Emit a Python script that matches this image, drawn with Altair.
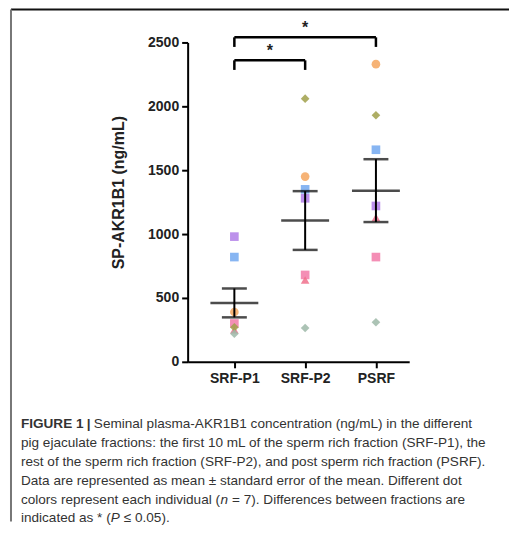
import altair as alt
import pandas as pd

# ---------------- data ----------------
categories = ["SRF-P1", "SRF-P2", "PSRF"]
individuals = ["A", "B", "C", "D", "E", "F", "G"]
ind_colors = ["#b07ee8", "#72a8f0", "#f4a65e", "#f27aa8", "#f0708c", "#a0a04a", "#9db8a8"]
ind_shapes = ["square", "square", "circle", "square", "triangle-up", "diamond", "diamond"]
srf_p1 = [980, 820, 390, 300, 250, 270, 220]
srf_p2 = [1280, 1350, 1450, 680, 640, 2060, 265]
psrf = [1220, 1660, 2330, 820, 1130, 1930, 310]
means = [461, 1106, 1340]
sems = [113, 230, 246]
y_ticks = [0, 500, 1000, 1500, 2000, 2500]
# significance brackets
sig_from = [0, 0]
sig_to = [2, 1]
sig_level = [2540, 2360]
sig_label = ["*", "*"]

caption_lines = [
    "pig ejaculate fractions: the first 10 mL of the sperm rich fraction (SRF-P1), the",
    "rest of the sperm rich fraction (SRF-P2), and post sperm rich fraction (PSRF).",
    "Data are represented as mean \u00b1 standard error of the mean. Different dot",
]

# ---------------- tables ----------------
rows = []
for ci, vals in enumerate([srf_p1, srf_p2, psrf]):
    for ii, v in enumerate(vals):
        rows.append({"idx": ci, "cat": categories[ci], "ind": individuals[ii], "value": v})
pts = pd.DataFrame(rows)

stats = pd.DataFrame({
    "idx": [0, 1, 2],
    "mean": means,
    "lo": [m - s for m, s in zip(means, sems)],
    "hi": [m + s for m, s in zip(means, sems)],
})
sig = pd.DataFrame({"x1": sig_from, "x2": sig_to, "lev": sig_level, "lab": sig_label})
sig["mid"] = (sig["x1"] + sig["x2"]) / 2
sig["foot"] = sig["lev"] - 75

FONT = "Liberation Sans"
label_expr = "[" + ",".join("'%s'" % c for c in categories) + "][datum.value]"

xscale = alt.Scale(domain=[-0.66, 2.47])
yscale = alt.Scale(domain=[0, 2500])
xaxis = alt.Axis(values=[0, 1, 2], labelExpr=label_expr, title=None, grid=False,
                 domainColor="black", domainWidth=2, tickColor="black", tickWidth=2,
                 tickSize=6, labelFont=FONT, labelFontWeight="bold", labelFontSize=14,
                 labelColor="#222", labelPadding=4)
yaxis = alt.Axis(values=y_ticks, format="d", title="SP-AKR1B1 (ng/mL)", grid=False,
                 domainColor="black", domainWidth=2, tickColor="black", tickWidth=2,
                 tickSize=6, labelFont=FONT, labelFontWeight="bold", labelFontSize=14,
                 labelColor="#222", labelPadding=3, titleFont=FONT, titleFontWeight="bold",
                 titleFontSize=16, titleColor="#222", titlePadding=21, titleY=150)

points = alt.Chart(pts).mark_point(filled=True, size=75, opacity=0.85).encode(
    x=alt.X("idx:Q", scale=xscale, axis=xaxis),
    y=alt.Y("value:Q", scale=yscale, axis=yaxis),
    color=alt.Color("ind:N", scale=alt.Scale(domain=individuals, range=ind_colors), legend=None),
    shape=alt.Shape("ind:N", scale=alt.Scale(domain=individuals, range=ind_shapes), legend=None),
)

base_s = alt.Chart(stats)
vline = base_s.mark_rule(color="black", strokeWidth=2).encode(
    x=alt.X("idx:Q", scale=xscale), y=alt.Y("lo:Q", scale=yscale), y2="hi:Q")
mean_t = base_s.mark_tick(color="black", thickness=2.5, size=48, orient="horizontal").encode(
    x=alt.X("idx:Q", scale=xscale), y=alt.Y("mean:Q", scale=yscale))
hi_t = base_s.mark_tick(color="black", thickness=2.5, size=25, orient="horizontal").encode(
    x=alt.X("idx:Q", scale=xscale), y=alt.Y("hi:Q", scale=yscale))
lo_t = base_s.mark_tick(color="black", thickness=2.5, size=25, orient="horizontal").encode(
    x=alt.X("idx:Q", scale=xscale), y=alt.Y("lo:Q", scale=yscale))

base_g = alt.Chart(sig)
s_h = base_g.mark_rule(color="black", strokeWidth=2.5).encode(
    x=alt.X("x1:Q", scale=xscale), x2="x2:Q", y=alt.Y("lev:Q", scale=yscale))
s_l = base_g.mark_rule(color="black", strokeWidth=2.5).encode(
    x=alt.X("x1:Q", scale=xscale), y=alt.Y("lev:Q", scale=yscale), y2="foot:Q")
s_r = base_g.mark_rule(color="black", strokeWidth=2.5).encode(
    x=alt.X("x2:Q", scale=xscale), y=alt.Y("lev:Q", scale=yscale), y2="foot:Q")
s_t = base_g.mark_text(font=FONT, fontWeight="bold", fontSize=16, color="#222", dy=-9,
                       baseline="middle").encode(
    x=alt.X("mid:Q", scale=xscale), y=alt.Y("lev:Q", scale=yscale), text="lab:N")

# frame lines (relative to plot origin)
frame_top = alt.Chart(pd.DataFrame({"a": [0]})).mark_rule(color="#111", strokeWidth=2).encode(
    x=alt.value(-177), x2=alt.value(322), y=alt.value(-33))
frame_left = alt.Chart(pd.DataFrame({"a": [0]})).mark_rule(color="#777", strokeWidth=2).encode(
    x=alt.value(-177), y=alt.value(-33), y2=alt.value(480))

CAP_X = -167
CAP_Y0 = 382
LH = 19
FS = 13.6
cap_color = "#333"

def txt(s, x, y, weight="normal", style="normal"):
    return alt.Chart(pd.DataFrame({"t": [s]})).mark_text(
        font=FONT, fontSize=FS, fontWeight=weight, fontStyle=style, color=cap_color,
        align="left", baseline="middle").encode(x=alt.value(x), y=alt.value(y), text="t:N")

caps = [
    txt("FIGURE 1", CAP_X, CAP_Y0, weight="bold"),
    txt("|", CAP_X + 66, CAP_Y0, weight="bold"),
    txt("Seminal plasma-AKR1B1 concentration (ng/mL) in the different", CAP_X + 73, CAP_Y0),
]
for i, line in enumerate(caption_lines):
    caps.append(txt(line, CAP_X, CAP_Y0 + LH * (i + 1)))
caps += [
    txt("colors represent each individual (", CAP_X, CAP_Y0 + LH * 4),
    txt("n", CAP_X + 200, CAP_Y0 + LH * 4, style="italic"),
    txt("= 7). Differences between fractions are", CAP_X + 211.5, CAP_Y0 + LH * 4),
    txt("indicated as * (", CAP_X, CAP_Y0 + LH * 5),
    txt("P", CAP_X + 90, CAP_Y0 + LH * 5, style="italic"),
    txt("\u2264 0.05).", CAP_X + 103, CAP_Y0 + LH * 5),
]

chart = alt.layer(
    frame_top, frame_left, points, vline, mean_t, hi_t, lo_t, s_h, s_l, s_r, s_t, *caps
).properties(
    width=222, height=320, padding={"left": 2, "top": 0, "right": 0, "bottom": 0},
    background="white",
).configure_view(stroke=None)

chart.save("out.html", embed_options={"renderer": "svg", "actions": False})
